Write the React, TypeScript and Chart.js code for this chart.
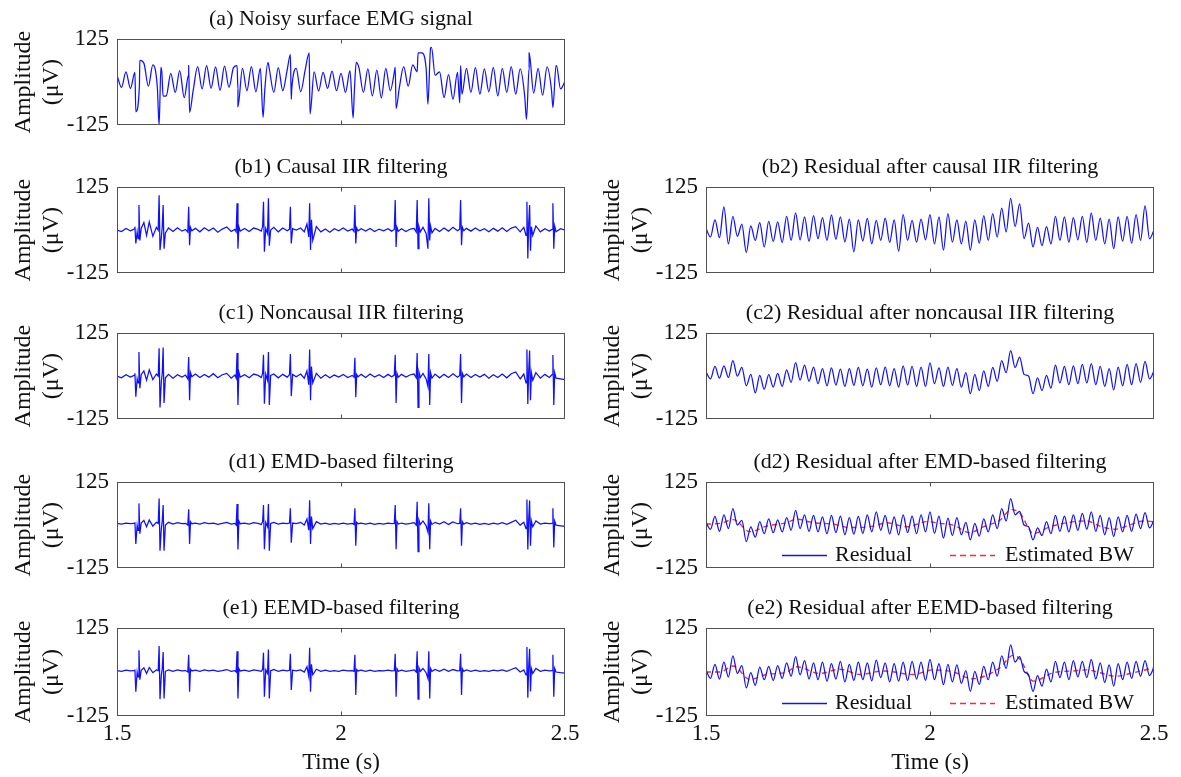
import React, { useEffect, useRef } from "react";
import { Chart, registerables } from "chart.js";

Chart.register(...registerables);

const SERIF = '"Liberation Serif", "Times New Roman", Times, serif';
const BLUE = "#1010ff";
const RED = "#ff2a2a";
const INK = "#111111";

// ---------------- axis / text ----------------
const X_TICKS = [1.5, 2, 2.5];
const Y_TICKS = [-125, 125];
const Y_LABEL = ["Amplitude", "(μV)"];
const X_LABEL = "Time (s)";
const LEGEND_LABELS = ["Residual", "Estimated BW"];

const TITLES = {
  a: "(a) Noisy surface EMG signal",
  b1: "(b1) Causal IIR filtering",
  b2: "(b2) Residual after causal IIR filtering",
  c1: "(c1) Noncausal IIR filtering",
  c2: "(c2) Residual after noncausal IIR filtering",
  d1: "(d1) EMD-based filtering",
  d2: "(d2) Residual after EMD-based filtering",
  e1: "(e1) EEMD-based filtering",
  e2: "(e2) Residual after EEMD-based filtering",
};

// ---------------- sampling base (ms), 10 ms steps from 1500 to 2500 ----------------
const GRID_MS: number[] = Array.from({ length: 101 }, (_, k) => 1500 + 10 * k);

// ---------------- (a) noisy sEMG ----------------
const A_GRID_UV = [
  20, -15, 30, -18, 28, -10, 55, -12, 50, -15,
  30, -40, 25, -30, 33, -45, 22, -25, 45, -20,
  48, -18, 44, -24, 46, -15, 42, -22, 40, -25,
  45, -28, 40, -20, 38, -30, 42, -25, 36, -22,
  40, -28, 35, -20, 30, -26, 28, -18, 32, -25,
  25, -30, 33, -22, 42, -30, 38, -40, 35, -46,
  40, -25, 36, -18, 45, -12, 50, 30, 85, 40,
  99, 20, 30, -45, 22, -50, 28, -35, 40, -30,
  42, -35, 38, -28, 43, -40, 40, -30, 45, -35,
  38, -40, 42, -32, 40, -38, 44, -25, 48, -20,
  2,
];
const A_SPIKE_MS = [
  1542, 1551, 1594, 1598, 1603, 1660, 1662, 1768, 1770, 1826, 1837, 1887, 1889, 1929,
  1931, 2027, 2034, 2121, 2123, 2172, 2194, 2202, 2265, 2267, 2414, 2420, 2473, 2481,
];
const A_SPIKE_UV = [
  -86, 63, -125, 43, -41, 48, -88, 48, -71, -102, 57, 80, -50, 85,
  -92, -104, 57, 43, -77, 85, -64, 101, -60, 48, -108, 85, -74, 48,
];

// ---------------- left column filtered signals (shared time base, ms) ----------------
const T_LEFT_MS = [
  1500, 1510, 1520, 1530,
  1538, 1540, 1542, 1545, 1547, 1549, 1551, 1554,
  1560, 1566, 1572, 1580, 1588,
  1592, 1594, 1596, 1599, 1601, 1603, 1605, 1608,
  1615, 1625, 1635, 1645,
  1653, 1658, 1660, 1662, 1664, 1667,
  1675, 1685, 1695, 1705, 1715, 1725, 1735, 1745, 1755,
  1763, 1766, 1768, 1770, 1772, 1775,
  1785, 1795, 1805, 1815,
  1822, 1825, 1827, 1829, 1832, 1836, 1838, 1840, 1843,
  1850, 1860, 1870, 1880,
  1885, 1887, 1889, 1892,
  1900, 1910,
  1918, 1924, 1928, 1930, 1932, 1934, 1937,
  1945, 1955, 1965, 1975, 1985, 1995, 2005, 2015, 2025,
  2029, 2031, 2033, 2035, 2038,
  2045, 2055, 2065, 2075, 2085, 2095, 2105, 2113,
  2119, 2121, 2123, 2125, 2128,
  2135, 2145, 2155, 2163,
  2168, 2170, 2172, 2174, 2177,
  2183, 2190,
  2194, 2196, 2198, 2200, 2203,
  2210, 2220, 2230, 2240, 2250, 2260,
  2265, 2267, 2269, 2271, 2274,
  2280, 2290, 2300, 2310, 2320, 2330, 2340, 2350, 2360, 2370, 2380, 2390, 2400,
  2408, 2413, 2415, 2417, 2419, 2421, 2423, 2425, 2428,
  2435, 2445, 2455, 2465,
  2471, 2473, 2475, 2477, 2480,
  2490, 2500,
];
const B1_UV = [
  0, -4, 5, -2,
  3, 10, -39, -5, -25, 73, -30, 5,
  22, -15, 24, -18, 8,
  0, 101, -58, -20, 10, 73, -54, -8,
  6, -4, 7, -3,
  2, -6, 68, -44, 8, -2,
  5, -5, 7, -2, 6, -6, 3, 9, -4,
  2, -5, 78, -54, 10, -3,
  5, -4, 6, 2,
  -3, 10, 82, -63, 5, -10, 92, -45, 0,
  8, -5, 6, -2,
  3, 68, -39, 4,
  0, 6,
  -5, 18, -20, 78, -58, 30, -30,
  10, -5, 3, -6, 4, -2, 6, -3, 3,
  -4, 73, -39, 6, -2,
  4, -3, 5, -4, 3, -2, 4, -3,
  2, 87, -49, 8, -3,
  4, -4, 3, 5,
  -6, 87, -54, 10, -5,
  8, -10,
  -54, 92, -30, 12, -8,
  5, -4, 6, -3, 8, -2,
  3, 87, -44, 8, -2,
  5, -3, 6, -2, 4, -5, 5, -3, 7, -4, 6, 10, -5,
  8, -15, 82, -82, 20, 73, -60, 10, -15,
  12, -5, 4, -3,
  2, 78, -54, 12, -5,
  4, 0,
];
const C1_UV = [
  0, -5, 4, -3,
  2, 8, -60, -8, -20, 70, -35, 4,
  15, -12, 18, -10, 6,
  0, 81, -91, -15, 8, 83, -78, -5,
  5, -6, 4, -3,
  3, -8, 55, -70, 10, -2,
  6, -4, 5, -3, 7, -5, 4, 8, -6,
  3, -6, 67, -84, 12, -3,
  4, -5, 6, 2,
  -4, 8, 62, -80, 6, -12, 70, -84, 2,
  6, -5, 5, -3,
  4, 64, -58, 5,
  -2, 6,
  -6, 15, -25, 77, -70, 28, -20,
  8, -6, 4, -5, 3, -3, 5, -4, 2,
  -3, 53, -61, 5, -2,
  5, -4, 6, -3, 4, -4, 5, -2,
  3, 62, -78, 8, -3,
  5, -3, 4, 6,
  -5, 67, -91, 12, -4,
  8, -8,
  -30, 64, -84, 10, -6,
  6, -5, 5, -4, 7, -3,
  2, 64, -78, 8, -2,
  6, -4, 5, -3, 5, -6, 4, -4, 6, -5, 7, 12, -8,
  6, -20, 77, -81, 15, 74, -70, 10, -12,
  10, -6, 5, -4,
  4, 61, -84, 10, -6,
  -8, -10,
];
const D1_UV = [
  5, 3, 6, 4,
  5, 8, -55, 0, -15, 63, -25, 6,
  14, -5, 15, -3, 8,
  5, 77, -74, -10, 12, 58, -74, 0,
  8, 3, 7, 4,
  5, 0, 46, -55, 10, 4,
  6, 3, 7, 4, 6, 2, 5, 8, 3,
  5, 0, 61, -71, 12, 4,
  6, 3, 7, 5,
  2, 10, 58, -70, 8, -5, 61, -74, 5,
  8, 3, 6, 4,
  6, 49, -51, 6,
  4, 8,
  0, 18, -15, 72, -55, 25, -10,
  10, 3, 6, 2, 5, 3, 6, 3, 5,
  2, 49, -60, 8, 4,
  6, 3, 6, 2, 5, 3, 6, 4,
  5, 58, -70, 10, 3,
  6, 3, 5, 7,
  0, 68, -77, 14, 2,
  12, -2,
  -20, 63, -70, 12, 2,
  8, 3, 10, 2, 9, 4,
  5, 49, -60, 10, 3,
  7, 3, 6, 2, 5, 2, 6, 3, 7, 2, 8, 14, 0,
  8, -10, 74, -71, 18, 71, -60, 12, -5,
  12, 3, 6, 4,
  5, 49, -65, 12, 0,
  -2, -4,
];
const E1_UV = [
  4, 2, 5, 3,
  4, 7, -56, 0, -14, 62, -22, 5,
  12, -4, 13, -2, 6,
  4, 74, -77, -8, 10, 57, -75, 2,
  6, 2, 6, 3,
  4, 0, 49, -56, 8, 3,
  5, 2, 6, 3, 5, 2, 4, 7, 2,
  4, 0, 59, -75, 10, 3,
  5, 2, 6, 4,
  2, 8, 55, -70, 6, -4, 64, -75, 4,
  7, 2, 5, 3,
  5, 52, -51, 5,
  3, 6,
  0, 15, -12, 69, -56, 22, -8,
  8, 2, 5, 2, 4, 2, 5, 3, 4,
  2, 49, -65, 7, 3,
  5, 2, 5, 2, 4, 3, 5, 3,
  4, 52, -70, 9, 2,
  5, 2, 4, 6,
  0, 59, -77, 12, 2,
  10, -2,
  -18, 59, -75, 10, 2,
  7, 2, 8, 2, 7, 3,
  4, 52, -65, 9, 2,
  6, 2, 5, 2, 4, 2, 5, 3, 6, 2, 7, 12, 0,
  6, -8, 71, -73, 15, 66, -55, 10, -4,
  10, 2, 5, 3,
  4, 49, -70, 10, 0,
  -2, -3,
];

// ---------------- right column residuals (on GRID_MS) ----------------
const B2_UV = [
  5, -20, 30, -22, 67, -40, 40, -18, 17, -65,
  12, -30, 22, -49, 25, -33, 24, -36, 40, -30,
  50, -28, 38, -33, 42, -25, 36, -30, 44, -27,
  38, -34, 32, -63, 30, -32, 34, -40, 28, -30,
  35, -36, 30, -61, 45, -30, 28, -35, 32, -28,
  45, -40, 38, -58, 48, -35, 30, -40, 26, -58,
  30, -38, 42, -30, 48, -20, 64, -5, 92, 10,
  76, -25, 20, -49, 8, -45, 10, -40, 40, -30,
  38, -35, 36, -28, 40, -36, 50, -30, 35, -40,
  32, -54, 38, -32, 40, -38, 45, -30, 70, -25,
  0,
];
const C2_UV = [
  12, -8, 28, -6, 30, -4, 45, 0, 25, -28,
  5, -49, 2, -38, 4, -32, 8, -30, 18, -18,
  39, -12, 32, -15, 26, -22, 22, -28, 24, -26,
  20, -30, 22, -27, 25, -28, 20, -32, 24, -25,
  26, -28, 22, -32, 30, -26, 28, -30, 26, -30,
  38, -22, 24, -30, 26, -27, 22, -32, 10, -51,
  5, -42, 15, -30, 25, -15, 45, 10, 74, 25,
  55, 5, 0, -51, -5, -42, 2, -35, 32, -20,
  28, -25, 30, -22, 34, -20, 36, -25, 28, -30,
  22, -40, 26, -28, 34, -25, 36, -18, 43, -8,
  15,
];
const D2_RES_UV = [
  8, -12, 25, -18, 30, -10, 48, 0, 14, -48,
  -5, -35, 10, -25, 18, -22, 15, -20, 22, -15,
  43, -10, 30, -18, 28, -20, 24, -25, 28, -22,
  26, -28, 22, -26, 25, -24, 30, -20, 38, -15,
  28, -26, 24, -28, 30, -22, 26, -25, 30, -20,
  38, -24, 26, -38, 20, -30, 22, -28, 8, -43,
  5, -32, 18, -20, 30, -10, 48, 12, 77, 30,
  40, 0, -5, -43, -8, -30, 10, -25, 28, -18,
  26, -20, 30, -15, 34, -12, 38, -18, 28, -28,
  22, -33, 24, -20, 28, -18, 32, -10, 36, -8,
  15,
];
const D2_BW_MS = [
  1500, 1531, 1561, 1598, 1635, 1680, 1702, 1740, 1784, 1821, 1874, 1903, 1948, 1993, 2022,
  2052, 2089, 2119, 2156, 2182, 2201, 2231, 2268, 2305, 2350, 2379, 2413, 2439, 2476, 2500,
];
const D2_BW_UV = [
  3, 5, 16, -19, -3, 7, 17, 7, 3, -7, -3, 7, -5, 10, 5,
  0, -22, -5, 14, 45, 34, -24, -5, 7, 12, -3, -12, -3, 12, 10,
];
const E2_RES_UV = [
  5, -18, 22, -20, 28, -14, 46, -4, 18, -45,
  -2, -38, 14, -22, 16, -24, 18, -18, 26, -12,
  44, -8, 32, -20, 26, -22, 28, -26, 24, -20,
  30, -28, 22, -24, 28, -22, 26, -25, 34, -16,
  26, -28, 24, -26, 28, -24, 30, -20, 28, -24,
  36, -22, 24, -36, 22, -28, 20, -32, 4, -55,
  2, -35, 16, -22, 28, -12, 46, 10, 77, 28,
  44, 2, -8, -55, -10, -40, 8, -28, 30, -16,
  28, -22, 32, -14, 30, -16, 36, -20, 26, -30,
  20, -40, 24, -22, 28, -18, 30, -12, 32, -10,
  14,
];
const E2_BW_MS = [
  1500, 1531, 1561, 1598, 1635, 1680, 1702, 1754, 1799, 1844, 1896, 1963, 2007,
  2052, 2093, 2156, 2186, 2201, 2231, 2275, 2320, 2350, 2379, 2413, 2454, 2500,
];
const E2_BW_UV = [
  0, 0, 17, -21, -7, 0, 15, -4, 8, -7, 3, -7, 6,
  0, -19, 12, 48, 36, -26, -2, 3, 6, -2, -12, -2, 12,
];

// ---------------- layout ----------------
const PLOT_TOPS = [39, 187, 333, 482, 628];
const PLOT_H = 88;
const PLOT_W = 448;
const AXIS_W = 117;
const PAD_TOP = 38;
const PAD_RIGHT = 20;
const PAD_BOTTOM = 20;
const COL_CANVAS_LEFT = [0, 589];
const PAGE_H = 777;

type Pt = { x: number; y: number };
type Series = { pts: Pt[]; color: string; width: number; dash?: number[]; smooth?: boolean };
type PanelDef = { key: string; title: string; row: number; col: number; series: Series[]; legend?: boolean };

const toPts = (ms: number[], uv: number[]): Pt[] => ms.map((t, i) => ({ x: t / 1000, y: uv[i] }));

const aPts: Pt[] = [...toPts(GRID_MS, A_GRID_UV), ...toPts(A_SPIKE_MS, A_SPIKE_UV)].sort((p, q) => p.x - q.x);

const sig = (pts: Pt[]): Series => ({ pts, color: BLUE, width: 1.25 });
const wave = (pts: Pt[]): Series => ({ pts, color: BLUE, width: 1.25, smooth: true });
const bw = (pts: Pt[]): Series => ({ pts, color: RED, width: 1.4, dash: [5, 4], smooth: true });

const PANELS: PanelDef[] = [
  { key: "a", title: TITLES.a, row: 0, col: 0, series: [wave(aPts)] },
  { key: "b1", title: TITLES.b1, row: 1, col: 0, series: [sig(toPts(T_LEFT_MS, B1_UV))] },
  { key: "b2", title: TITLES.b2, row: 1, col: 1, series: [wave(toPts(GRID_MS, B2_UV))] },
  { key: "c1", title: TITLES.c1, row: 2, col: 0, series: [sig(toPts(T_LEFT_MS, C1_UV))] },
  { key: "c2", title: TITLES.c2, row: 2, col: 1, series: [wave(toPts(GRID_MS, C2_UV))] },
  { key: "d1", title: TITLES.d1, row: 3, col: 0, series: [sig(toPts(T_LEFT_MS, D1_UV))] },
  {
    key: "d2", title: TITLES.d2, row: 3, col: 1, legend: true,
    series: [wave(toPts(GRID_MS, D2_RES_UV)), bw(toPts(D2_BW_MS, D2_BW_UV))],
  },
  { key: "e1", title: TITLES.e1, row: 4, col: 0, series: [sig(toPts(T_LEFT_MS, E1_UV))] },
  {
    key: "e2", title: TITLES.e2, row: 4, col: 1, legend: true,
    series: [wave(toPts(GRID_MS, E2_RES_UV)), bw(toPts(E2_BW_MS, E2_BW_UV))],
  },
];

function canvasBox(p: PanelDef) {
  const left = COL_CANVAS_LEFT[p.col];
  const top = PLOT_TOPS[p.row] - PAD_TOP;
  const width = AXIS_W + PLOT_W + PAD_RIGHT;
  const height = p.row === 4 ? PAGE_H - top : PAD_TOP + PLOT_H + PAD_BOTTOM;
  return { left, top, width, height };
}

function framePlugin(p: PanelDef) {
  return {
    id: "frame",
    afterDatasetsDraw(chart: any) {
      const { ctx, chartArea } = chart;
      const { left, right, top, bottom } = chartArea;
      ctx.save();
      ctx.setLineDash([]);
      ctx.strokeStyle = "#505050";
      ctx.lineWidth = 1;
      const l = Math.round(left) + 0.5;
      const r = Math.round(right) - 0.5;
      const t = Math.round(top) + 0.5;
      const b = Math.round(bottom) - 0.5;
      ctx.strokeRect(l, t, r - l, b - t);
      const xm = Math.round(chart.scales.x.getPixelForValue(X_TICKS[1])) + 0.5;
      ctx.beginPath();
      ctx.moveTo(xm, t);
      ctx.lineTo(xm, t + 4);
      ctx.moveTo(xm, b);
      ctx.lineTo(xm, b - 4);
      ctx.stroke();

      ctx.fillStyle = INK;
      ctx.font = `22px ${SERIF}`;
      ctx.textAlign = "center";
      ctx.textBaseline = "middle";
      ctx.fillText(p.title, (left + right) / 2, top - 20);

      if (p.legend) {
        const ly = Math.round(bottom - 13) + 0.5;
        ctx.lineWidth = 1.4;
        ctx.strokeStyle = BLUE;
        ctx.beginPath();
        ctx.moveTo(left + 76, ly);
        ctx.lineTo(left + 121, ly);
        ctx.stroke();
        ctx.strokeStyle = RED;
        ctx.setLineDash([6, 4]);
        ctx.beginPath();
        ctx.moveTo(left + 244, ly);
        ctx.lineTo(left + 289, ly);
        ctx.stroke();
        ctx.setLineDash([]);
        ctx.font = `22px ${SERIF}`;
        ctx.textAlign = "left";
        ctx.fillText(LEGEND_LABELS[0], left + 129, ly);
        ctx.fillText(LEGEND_LABELS[1], left + 299, ly);
      }
      ctx.restore();
    },
  };
}

function makeConfig(p: PanelDef): any {
  const bottomRow = p.row === 4;
  return {
    type: "line",
    data: {
      datasets: p.series.map((s) => ({
        data: s.pts,
        borderColor: s.color,
        borderWidth: s.width,
        borderDash: s.dash || [],
        pointRadius: 0,
        tension: s.smooth ? 0.4 : 0,
        cubicInterpolationMode: s.smooth ? "monotone" : "default",
        fill: false,
      })),
    },
    options: {
      animation: false,
      responsive: false,
      devicePixelRatio: 1,
      events: [],
      layout: { padding: { left: 0, top: PAD_TOP, right: PAD_RIGHT, bottom: bottomRow ? 0 : PAD_BOTTOM } },
      plugins: { legend: { display: false }, tooltip: { enabled: false }, title: { display: false } },
      scales: {
        x: {
          type: "linear",
          min: 1.5,
          max: 2.5,
          display: bottomRow,
          grid: { display: false, drawTicks: false },
          border: { display: false },
          afterBuildTicks: (s: any) => {
            s.ticks = X_TICKS.map((value) => ({ value }));
          },
          ticks: {
            color: INK,
            font: { family: SERIF, size: 23 },
            padding: 4,
            maxRotation: 0,
            autoSkip: false,
            callback: (v: any) => String(v),
          },
          title: {
            display: true,
            text: X_LABEL,
            color: INK,
            font: { family: SERIF, size: 23, lineHeight: 1.2 },
            padding: { top: 0, bottom: 0 },
          },
          afterFit: (s: any) => {
            s.height = bottomRow ? PAGE_H - PLOT_TOPS[4] - PLOT_H : 0;
          },
        },
        y: {
          type: "linear",
          min: -125,
          max: 125,
          grid: { display: false, drawTicks: false },
          border: { display: false },
          afterBuildTicks: (s: any) => {
            s.ticks = Y_TICKS.map((value) => ({ value }));
          },
          ticks: {
            color: INK,
            font: { family: SERIF, size: 23 },
            padding: 8,
            autoSkip: false,
            callback: (v: any) => String(v),
          },
          title: {
            display: true,
            text: Y_LABEL,
            color: INK,
            font: { family: SERIF, size: 24, lineHeight: 1.2 },
            padding: { top: 9, bottom: 0 },
          },
          afterFit: (s: any) => {
            s.width = AXIS_W;
          },
        },
      },
    },
    plugins: [framePlugin(p)],
  };
}

function Panel({ def }: { def: PanelDef }) {
  const ref = useRef<HTMLCanvasElement>(null);
  const box = canvasBox(def);
  useEffect(() => {
    if (!ref.current) return;
    const chart = new Chart(ref.current, makeConfig(def));
    return () => chart.destroy();
  }, [def]);
  return (
    <canvas
      ref={ref}
      width={box.width}
      height={box.height}
      style={{ position: "absolute", left: box.left, top: box.top, width: box.width, height: box.height }}
    />
  );
}

export default function App() {
  return (
    <div
      style={{
        position: "absolute",
        left: 0,
        top: 0,
        width: 1181,
        height: 777,
        background: "#ffffff",
        overflow: "hidden",
      }}
    >
      {PANELS.map((p) => (
        <Panel key={p.key} def={p} />
      ))}
    </div>
  );
}
